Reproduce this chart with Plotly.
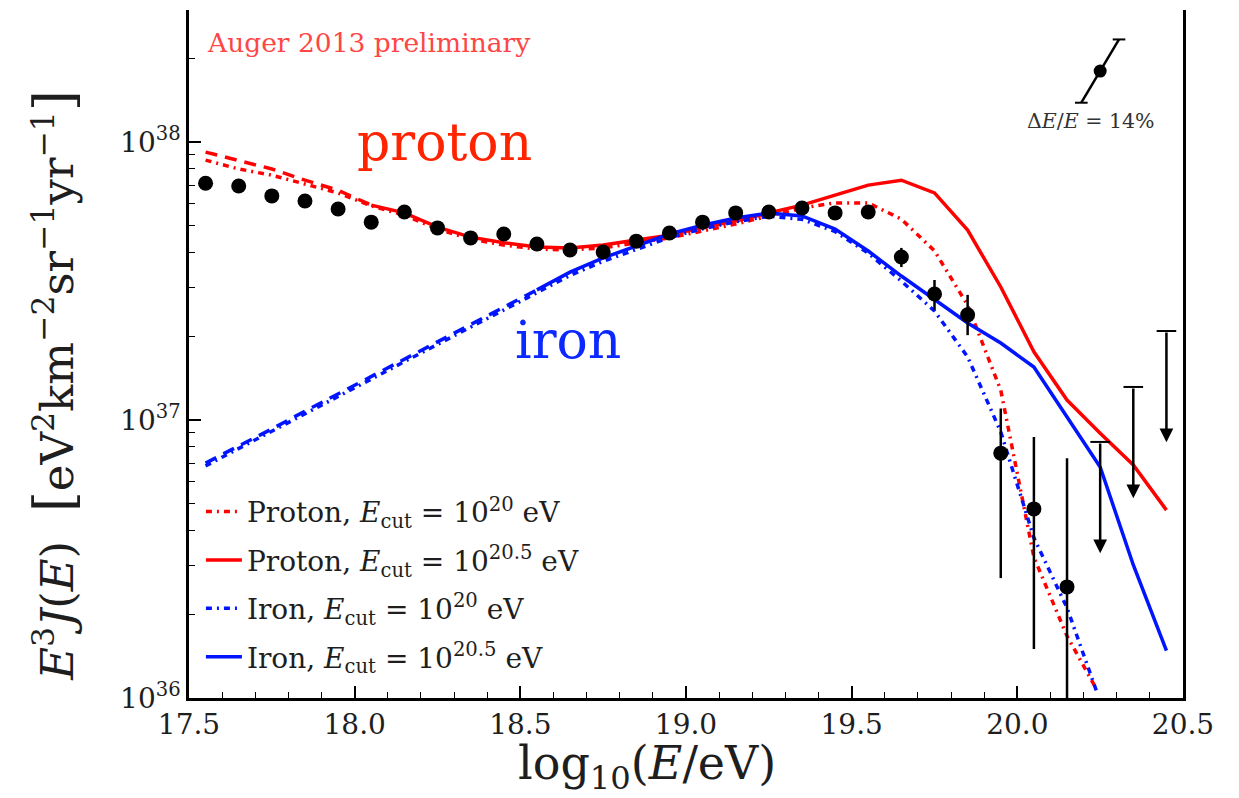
import numpy as np
import plotly.graph_objects as go

# log10(E/eV) bin centres
lgE_bins = [17.55, 17.65, 17.75, 17.85, 17.95, 18.05, 18.15, 18.25, 18.35, 18.45,
            18.55, 18.65, 18.75, 18.85, 18.95, 19.05, 19.15, 19.25, 19.35, 19.45,
            19.55, 19.65, 19.75, 19.85, 19.95, 20.05, 20.15, 20.25, 20.35, 20.45]

UNIT = 1e37  # all fluxes below are E^3 J in units of 1e37 eV^2 km^-2 sr^-1 yr^-1

# Auger 2013 (preliminary) spectrum
auger_lgE = lgE_bins[:27]
auger_flux = [7.11, 6.95, 6.40, 6.14, 5.74, 5.15, 5.60, 4.91, 4.52, 4.67,
              4.30, 4.09, 4.02, 4.40, 4.71, 5.15, 5.56, 5.60, 5.79, 5.56,
              5.60, 3.86, 2.84, 2.39, 0.76, 0.479, 0.251]
auger_upper = [7.11, 6.95, 6.40, 6.14, 5.74, 5.15, 5.60, 4.91, 4.52, 4.67,
               4.30, 4.09, 4.02, 4.40, 4.71, 5.15, 5.56, 5.60, 5.79, 5.56,
               5.60, 4.16, 3.19, 2.82, 1.10, 0.869, 0.729]
auger_lower = [7.11, 6.95, 6.40, 6.14, 5.74, 5.15, 5.60, 4.91, 4.52, 4.67,
               4.30, 4.09, 4.02, 4.40, 4.71, 5.15, 5.56, 5.60, 5.79, 5.56,
               5.60, 3.55, 2.49, 2.02, 0.27, 0.150, 0.05]

# 84% C.L. upper limits in the highest bins
limit_lgE = [20.25, 20.35, 20.45]
limit_flux = [0.834, 1.315, 2.09]

# Model spectra
proton_205 = [9.20, 8.55, 8.00, 7.29, 6.71, 5.93, 5.56, 4.94, 4.55, 4.34,
              4.19, 4.16, 4.26, 4.44, 4.62, 4.94, 5.20, 5.56, 5.93, 6.44,
              7.00, 7.29, 6.56, 4.82, 3.01, 1.76, 1.18, 0.897, 0.689, 0.474]
proton_20_lgE = lgE_bins[:27] + [20.24]
proton_20 = [8.61, 8.00, 7.60, 7.06, 6.56, 5.89, 5.46, 4.86, 4.48, 4.26,
             4.12, 4.09, 4.16, 4.34, 4.52, 4.79, 5.07, 5.42, 5.79, 6.04,
             6.04, 5.28, 4.06, 2.59, 1.28, 0.321, 0.167, 0.107]
iron_205 = [0.700, 0.805, 0.929, 1.076, 1.242, 1.429, 1.656, 1.910, 2.198, 2.547,
            2.938, 3.404, 3.828, 4.227, 4.667, 5.023, 5.333, 5.559, 5.420, 4.864,
            4.055, 3.296, 2.704, 2.234, 1.892, 1.552, 1.026, 0.678, 0.301, 0.148]
iron_20_lgE = lgE_bins[:27] + [20.24]
iron_20 = [0.684, 0.791, 0.912, 1.057, 1.219, 1.403, 1.622, 1.871, 2.153, 2.489,
           2.864, 3.311, 3.724, 4.111, 4.529, 4.875, 5.164, 5.408, 5.272, 4.764,
           3.981, 3.162, 2.466, 1.687, 0.906, 0.377, 0.211, 0.105]

# fit starts (below these the 10^20.5 models are drawn dashed)
proton_fit_start = 5
iron_fit_start = 10

# energy-scale systematic marker
escale_lgE = 20.25
escale_flux = 18.0
escale_rel = 0.14

x_ticks = [17.5, 18.0, 18.5, 19.0, 19.5, 20.0, 20.5]
y_ticks = [1e36, 1e37, 1e38]
y_ticktext = ["10<sup>36</sup>", "10<sup>37</sup>", "10<sup>38</sup>"]

RED = "rgb(255,0,0)"
BLUE = "rgb(0,20,255)"
INK = "rgb(30,30,30)"
SERIF = "DejaVu Serif"
DASHDOT = "6px,5px,2px,5px"
DASHED = "12px,8px"

def scaled(vals):
    return [v * UNIT for v in vals]

fig = go.Figure()

# proton, E_cut = 10^20.5 eV
fig.add_trace(go.Scatter(
    x=lgE_bins[:proton_fit_start + 1], y=scaled(proton_205[:proton_fit_start + 1]),
    mode="lines", line=dict(color=RED, width=3.5, dash=DASHED),
    showlegend=False, hoverinfo="skip"))
fig.add_trace(go.Scatter(
    x=lgE_bins[proton_fit_start:], y=scaled(proton_205[proton_fit_start:]),
    mode="lines", line=dict(color=RED, width=3.5),
    name="Proton, <i>E</i><sub>cut</sub> = 10<sup>20.5</sup> eV", legendrank=2,
    legendgroup="p205"))
# proton, E_cut = 10^20 eV
fig.add_trace(go.Scatter(
    x=proton_20_lgE, y=scaled(proton_20),
    mode="lines", line=dict(color=RED, width=3.5, dash=DASHDOT),
    name="Proton, <i>E</i><sub>cut</sub> = 10<sup>20</sup> eV", legendrank=1,
    legendgroup="p20"))
# iron, E_cut = 10^20.5 eV
fig.add_trace(go.Scatter(
    x=lgE_bins[:iron_fit_start + 1], y=scaled(iron_205[:iron_fit_start + 1]),
    mode="lines", line=dict(color=BLUE, width=3.5, dash=DASHED),
    showlegend=False, hoverinfo="skip"))
fig.add_trace(go.Scatter(
    x=lgE_bins[iron_fit_start:], y=scaled(iron_205[iron_fit_start:]),
    mode="lines", line=dict(color=BLUE, width=3.5),
    name="Iron, <i>E</i><sub>cut</sub> = 10<sup>20.5</sup> eV", legendrank=4,
    legendgroup="fe205"))
# iron, E_cut = 10^20 eV
fig.add_trace(go.Scatter(
    x=iron_20_lgE, y=scaled(iron_20),
    mode="lines", line=dict(color=BLUE, width=3.5, dash=DASHDOT),
    name="Iron, <i>E</i><sub>cut</sub> = 10<sup>20</sup> eV", legendrank=3,
    legendgroup="fe20"))

# measured spectrum
err_plus = [(u - f) * UNIT for u, f in zip(auger_upper, auger_flux)]
err_minus = [(f - l) * UNIT for f, l in zip(auger_flux, auger_lower)]
fig.add_trace(go.Scatter(
    x=auger_lgE, y=scaled(auger_flux), mode="markers",
    marker=dict(color="black", size=15),
    error_y=dict(type="data", symmetric=False, array=err_plus, arrayminus=err_minus,
                 color="black", thickness=2.5, width=0),
    showlegend=False))

# upper limits: cap at the limit value
fig.add_trace(go.Scatter(
    x=limit_lgE, y=scaled(limit_flux), mode="markers",
    marker=dict(symbol="line-ew", size=14, line=dict(color="black", width=2)),
    showlegend=False, hoverinfo="skip"))

# energy-scale uncertainty bar
d_lg = np.log10(1 + escale_rel)
bar_x = [escale_lgE - d_lg, escale_lgE + d_lg]
bar_y = [escale_flux * UNIT / (1 + escale_rel) ** 2, escale_flux * UNIT * (1 + escale_rel) ** 2]
fig.add_trace(go.Scatter(
    x=bar_x, y=bar_y, mode="lines+markers",
    line=dict(color="black", width=2.5),
    marker=dict(symbol="line-ew", size=9, line=dict(color="black", width=2)),
    showlegend=False, hoverinfo="skip"))
fig.add_trace(go.Scatter(
    x=[escale_lgE], y=[escale_flux * UNIT], mode="markers",
    marker=dict(color="black", size=13), showlegend=False, hoverinfo="skip"))

annotations = []
for lx, lf in zip(limit_lgE, limit_flux):
    top = np.log10(lf * UNIT)
    annotations.append(dict(
        x=lx, y=top - 0.40, ax=lx, ay=top, xref="x", yref="y", axref="x", ayref="y",
        text="", showarrow=True, arrowhead=2, arrowsize=1.1, arrowwidth=2.5,
        arrowcolor="black"))

BR = "<span style='font-size:54px'>"
y_title = ("<i>E</i><sup>3</sup><i>J</i>(<i>E</i>)  " + BR + "[</span>eV<sup>2</sup>km<sup>−2</sup>"
           "sr<sup>−1</sup>yr<sup>−1</sup>" + BR + "]</span>")

annotations += [
    dict(text="Auger 2013 preliminary", xref="paper", yref="paper", x=0.016, y=0.953,
         xanchor="left", yanchor="middle", showarrow=False,
         font=dict(family=SERIF, size=26.5, color="rgb(255,70,70)")),
    dict(text="proton", xref="x", yref="paper", x=18.27, y=0.808,
         xanchor="center", yanchor="middle", showarrow=False,
         font=dict(family=SERIF, size=52, color="rgb(255,35,0)")),
    dict(text="iron", xref="x", yref="paper", x=18.645, y=0.52,
         xanchor="center", yanchor="middle", showarrow=False,
         font=dict(family=SERIF, size=52, color="rgb(10,40,255)")),
    dict(text="Δ<i>E</i>/<i>E</i> = 14%", xref="x", yref="paper", x=20.22, y=0.838,
         xanchor="center", yanchor="middle", showarrow=False,
         font=dict(family=SERIF, size=20.5, color="rgb(50,50,50)")),
    dict(text=y_title, xref="paper", yref="paper", x=-0.135, y=0.455,
         xanchor="center", yanchor="middle", textangle=-90, showarrow=False,
         font=dict(family=SERIF, size=45, color=INK)),
    dict(text="log<sub>10</sub>(<i>E</i>/eV)", xref="paper", yref="paper", x=0.461, y=-0.099,
         xanchor="center", yanchor="middle", showarrow=False,
         font=dict(family=SERIF, size=46, color=INK)),
]

top_major = [1e18, 1e19, 1e20]
top_minor = [k * 10.0 ** d for d in (17, 18, 19, 20) for k in range(2, 10)]
y_minor = [k * 10.0 ** d for d in (36, 37, 38) for k in range(2, 10)]

fig.update_layout(
    width=1239, height=798,
    margin=dict(l=189, r=56, t=10, b=100),
    paper_bgcolor="white", plot_bgcolor="white",
    font=dict(family=SERIF, color=INK),
    annotations=annotations,
    legend=dict(x=0.012, y=0.307, xanchor="left", yanchor="top",
                bgcolor="rgba(0,0,0,0)", font=dict(family=SERIF, size=28, color=INK),
                itemwidth=36, tracegroupgap=9, traceorder="grouped"),
    xaxis=dict(
        range=[17.5, 20.5], tickvals=x_ticks, ticktext=[f"{v:.1f}" for v in x_ticks],
        ticks="inside", ticklen=12, tickwidth=1.5, tickcolor="black",
        minor=dict(ticks="inside", ticklen=6, tickwidth=1.2, dtick=0.1, tickcolor="black", showgrid=False),
        showline=True, linewidth=2.5, linecolor="black", showgrid=False, zeroline=False,
        tickfont=dict(family=SERIF, size=28, color=INK),
    ),
    xaxis2=dict(
        overlaying="x", side="top", anchor="y", type="log", range=[17.5, 20.5],
        tickvals=top_major, ticks="inside", ticklen=12, tickwidth=1.5, tickcolor="black",
        minor=dict(ticks="inside", ticklen=6, tickwidth=1.2, tickvals=top_minor, tickcolor="black", showgrid=False),
        showticklabels=False, showline=True, linewidth=2.5, linecolor="black", showgrid=False,
    ),
    yaxis=dict(
        type="log", range=[36, 38.475], tickvals=y_ticks, ticktext=y_ticktext,
        ticks="inside", ticklen=12, tickwidth=1.5, tickcolor="black",
        minor=dict(ticks="inside", ticklen=6, tickwidth=1.2, tickvals=y_minor, tickcolor="black", showgrid=False),
        showline=True, linewidth=2.5, linecolor="black", mirror=True, showgrid=False, zeroline=False,
        tickfont=dict(family=SERIF, size=28, color=INK),
    ),
)

fig.write_html("out.html")
